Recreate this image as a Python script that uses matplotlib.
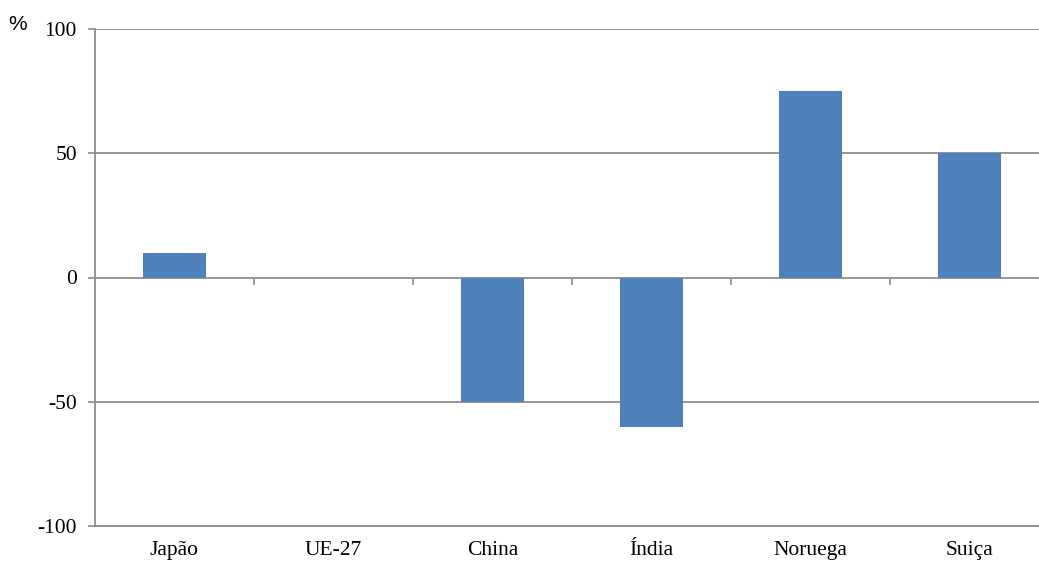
import matplotlib.pyplot as plt
import numpy as np
from matplotlib.ticker import FixedLocator

# country labels and percentage change per country
countries = ['Japão', 'UE-27', 'China', 'Índia', 'Noruega', 'Suiça']
values = [10, 0, -50, -60, 75, 50]
y_ticks = [-100, -50, 0, 50, 100]

bar_color = '#4f81bd'
grid_color = '#8c8c8c'

plt.rcParams['axes.unicode_minus'] = False

fig = plt.figure(figsize=(10.39, 5.62), dpi=100)
# plot area runs past the right edge of the canvas
ax = fig.add_axes([95 / 1039, 36 / 562, 954 / 1039, 497 / 562])

x = np.arange(len(countries))
ax.bar(x, values, width=0.4, color=bar_color, linewidth=0, zorder=3)

ax.set_xlim(-0.5, len(countries) - 0.5)
ax.set_ylim(y_ticks[0], y_ticks[-1])

# horizontal grid lines, zero line drawn as the category axis
ax.set_yticks(y_ticks)
ax.yaxis.grid(True, color=grid_color, linewidth=1.3, zorder=1)
ax.tick_params(axis='y', length=5, width=1.2, color=grid_color, pad=8,
               labelsize=15.5, labelfontfamily='Liberation Serif')

ax.set_xticks(x)
ax.set_xticklabels(countries, fontfamily='Liberation Serif', fontsize=15.5)
ax.tick_params(axis='x', length=0, pad=11)

for side in ['top', 'right']:
    ax.spines[side].set_visible(False)
ax.spines['left'].set_color(grid_color)
ax.spines['left'].set_linewidth(1.3)
ax.spines['bottom'].set_color(grid_color)
ax.spines['bottom'].set_linewidth(1.3)

# small tick marks between categories hanging below the zero line
zero_pos = (0 - y_ticks[0]) / (y_ticks[-1] - y_ticks[0])
sec = ax.secondary_xaxis(zero_pos)
sec.xaxis.set_major_locator(FixedLocator(x[:-1] + 0.5))
sec.tick_params(axis='x', direction='out', length=5, width=1.2, color=grid_color,
                labelbottom=False, labeltop=False, bottom=True, top=False)
sec.spines['bottom'].set_color(grid_color)
sec.spines['bottom'].set_linewidth(1.3)
sec.spines['top'].set_visible(False)

fig.text(18 / 1039, 1 - 25 / 562, '%', fontsize=15, fontfamily='Liberation Sans',
         ha='center', va='center')

fig.savefig('out.png', dpi=100)
